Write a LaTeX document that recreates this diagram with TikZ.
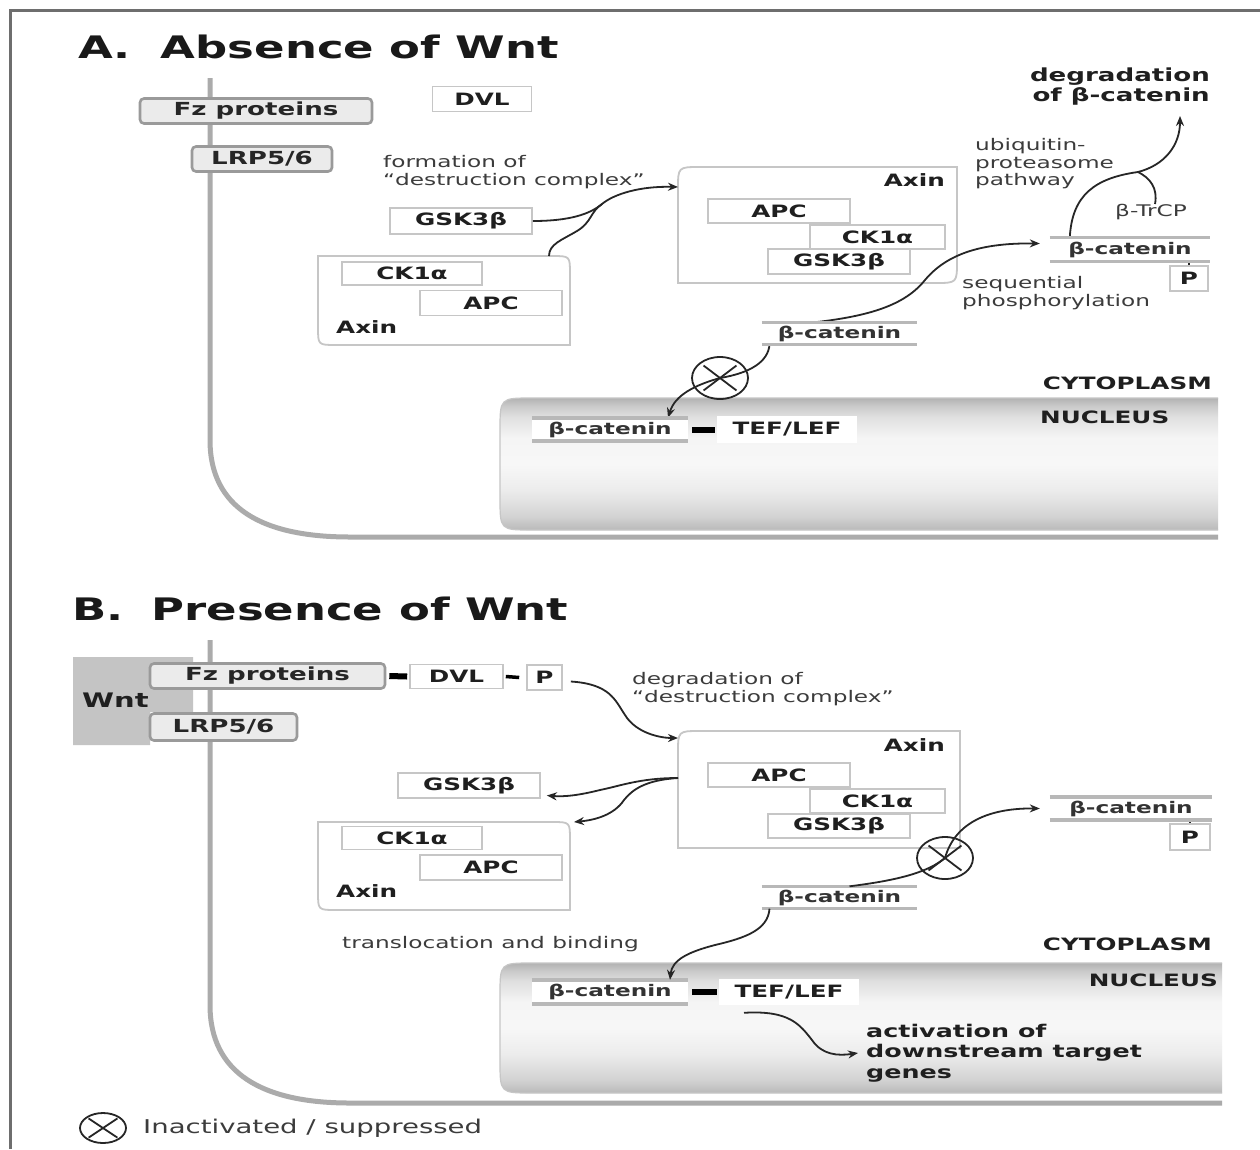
\documentclass[tikz,border=0pt]{standalone}
\usepackage{fontspec}
\setmainfont{DejaVu Sans}[FakeStretch=1.45]
\usetikzlibrary{shapes.geometric,arrows.meta}
\definecolor{membc}{HTML}{ABABAB}
\definecolor{boxln}{HTML}{C6C6C6}
\definecolor{txtg}{HTML}{3C3C3C}
\definecolor{frm}{HTML}{6E6E6E}
\definecolor{fzfill}{HTML}{EBEBEB}
\definecolor{fzline}{HTML}{9A9A9A}
\definecolor{wntc}{HTML}{C4C4C4}
\definecolor{barc}{HTML}{B8B8B8}
\pgfdeclareverticalshading{nucshade}{100bp}{color(0bp)=(gray!55); color(25bp)=(gray!55); color(30bp)=(gray!35); color(40bp)=(gray!15); color(50bp)=(gray!6); color(60bp)=(gray!8); color(68bp)=(gray!25); color(72bp)=(gray!42); color(75bp)=(gray!60); color(100bp)=(gray!60)}
\tikzset{
 box/.style={draw=boxln, line width=1.6pt, fill=white, inner sep=0pt, font=\fontsize{17}{20}\selectfont\bfseries, text=black!88},
 mbox/.style={draw=fzline, line width=2.6pt, fill=fzfill, rounded corners=4pt, inner sep=0pt, font=\fontsize{18}{20}\selectfont\bfseries, text=black!85},
 bcat/.style={inner sep=0pt, fill=white, font=\fontsize{16}{19}\selectfont\bfseries, text=black!80},
 barline/.style={line width=3.5pt, draw=barc},
 note/.style={font=\fontsize{16}{17.5}\selectfont, text=txtg, align=left, inner sep=0pt, anchor=west},
 big/.style={font=\fontsize{17}{20}\selectfont\bfseries, text=black!88, inner sep=0pt},
 head/.style={font=\fontsize{31}{34}\selectfont\bfseries, text=black!90, inner sep=0pt, anchor=west},
 conn/.style={line width=1.8pt, draw=black!85, -{Stealth[length=10pt,width=8pt]}},
 connn/.style={line width=1.8pt, draw=black!85},
 memb/.style={line width=5pt, draw=membc},
 cplx/.style={draw=boxln, line width=1.8pt},
 inhib/.style={ellipse, draw=black!85, line width=1.8pt, minimum width=56pt, minimum height=42pt, inner sep=0pt},
 xline/.style={line width=1.8pt, draw=black!85, shorten >=5pt, shorten <=5pt},
 bond/.style={line width=6pt, draw=black},
 pdot/.style={line width=2.5pt, draw=black!85},
}
\begin{document}
\begin{tikzpicture}[x=1pt,y=-1pt]
\useasboundingbox (0,0) rectangle (1260,1149);
\fill[white] (0,0) rectangle (1260,1149);
\draw[line width=3pt, frm] (10,1149) -- (10,10) -- (1260,10);

% ================= Panel A =================
\node[head] (aTitle) at (78,47) {A.\hspace{30pt}Absence of Wnt};
\draw[memb] (210,78) -- (210,440) .. controls (210,508) and (262,537) .. (350,537) -- (1218,537);
\node[mbox, minimum width=232pt, minimum height=25pt] (aFz) at (256,111) {Fz proteins};
\node[box, minimum width=99pt, minimum height=25pt] (aDVL) at (482,99) {DVL};
\node[mbox, minimum width=140pt, minimum height=25pt] (aLRP) at (262,159) {LRP5/6};
\node[note] (aForm) at (383,172) {formation of\\“destruction complex”};
\node[box, minimum width=142pt, minimum height=26pt] (aG) at (461,221) {GSK3β};

% left complex
\draw[cplx, fill=white] (318,256) -- (552,256) .. controls (570,256) .. (570,274) -- (570,345) -- (336,345) .. controls (318,345) .. (318,327) -- cycle;
\node[box, minimum width=140pt, minimum height=23pt] (aCK) at (412,273.5) {CK1α};
\node[box, minimum width=142pt, minimum height=25pt] (aAPC) at (491,303) {APC};
\node[big, anchor=west] (aAx) at (336,327) {Axin};
\coordinate (aLCt) at (549,256);

% right complex
\draw[cplx, fill=white] (678,283) -- (678,189) .. controls (678,167) .. (700,167) -- (957,167) -- (957,261) .. controls (957,283) .. (935,283) -- cycle;
\coordinate (aRCw) at (678,187);
\node[big, anchor=east] (aAx2) at (945,180) {Axin};
\node[box, minimum width=142pt, minimum height=24pt] (aAPC2) at (779,211) {APC};
\node[box, minimum width=135pt, minimum height=24pt] (aCK2) at (877.5,237) {CK1α};
\node[box, minimum width=142pt, minimum height=25pt] (aG2) at (839,261.5) {GSK3β};

% beta-catenins
\node[bcat, minimum width=155pt, minimum height=22pt] (aB1) at (839.5,333.5) {β-catenin};
\node[bcat, minimum width=160pt, minimum height=24pt] (aB2) at (1130,249.5) {β-catenin};
\node[box, minimum width=38pt, minimum height=25pt] (aP) at (1189,278.5) {P};
\draw[pdot] (aB2.south -| aP.north) -- (aP.north);

\node[big, align=right, anchor=east, font=\fontsize{18}{20}\selectfont\bfseries] (aDeg) at (1210,87) {degradation\\of β-catenin};
\node[note] (aUbq) at (975,164) {ubiquitin-\\proteasome\\pathway};
\node[note] (aTr) at (1115,212) {β-TrCP};
\node[note] (aSeq) at (962,293) {sequential\\phosphorylation};
\coordinate (aDegIn) at (1180,116);
\coordinate (aJ2) at (1138,172);
\coordinate (aJ) at (602,204);

% nucleus A
\shade[shading=nucshade] (1218,398) -- (532,398) .. controls (500,398) .. (500,430) -- (500,498) .. controls (500,530) .. (532,530) -- (1218,530) -- cycle;
\draw[gray!45, line width=1.2pt] (1218,398) -- (532,398) .. controls (500,398) .. (500,430) -- (500,498) .. controls (500,530) .. (532,530) -- (1218,530);
\node[big, anchor=east] (aCyt) at (1212,383) {CYTOPLASM};
\node[big, anchor=west] (aNuc) at (1040,417) {NUCLEUS};
\node[bcat, minimum width=156pt, minimum height=23pt] (aN1) at (610,429.5) {β-catenin};
\node[box, draw=white, minimum width=138pt, minimum height=25pt] (aTL) at (787,429.5) {TEF/LEF};
\draw[bond] ([xshift=4pt]aN1.east) -- ([xshift=-2pt]aTL.west);

\node[inhib] (aX) at (720,378) {};
\draw[xline] (aX.north west) -- (aX.south east);
\draw[xline] (aX.north east) -- (aX.south west);

% connectors A
\draw[conn] (aG.east) .. controls (570,221) and (590,214) .. (aJ) .. controls (614,194) and (640,186) .. (aRCw);
\draw[connn] (aLCt) .. controls (549,244) and (562,240) .. (577,231) .. controls (592,222) and (590,212) .. (aJ);
\draw[conn] ([xshift=-25pt]aB1.north) .. controls (870,316) and (905,305) .. (925,280) .. controls (950,250) and (990,243) .. ([shift={(-10,-6)}]aB2.west);
\draw[conn] ([xshift=20pt]aB2.north west) .. controls (1072,195) and (1095,178) .. (aJ2) .. controls (1165,165) and (1180,145) .. (aDegIn);
\draw[connn] ([xshift=40pt]aTr.north west) .. controls (1158,188) and (1150,178) .. (aJ2);
\draw[conn] ([xshift=-70pt]aB1.south) .. controls (768,362) and (750,373) .. (aX.center) .. controls (695,385) and (675,395) .. ([xshift=58pt]aN1.north);

% ================= Panel B =================
\node[head] (bTitle) at (72,609) {B.\hspace{28pt}Presence of Wnt};
\fill[wntc] (73,657) -- (193,657) -- (193,712) -- (150,712) -- (150,745) -- (73,745) -- cycle;
\node[big, anchor=west, font=\fontsize{20}{22}\selectfont\bfseries] (bWnt) at (82,700) {Wnt};
\draw[memb] (210,640) -- (210,1005) .. controls (210,1073) and (262,1103) .. (350,1103) -- (1222,1103);
\node[mbox, minimum width=235pt, minimum height=25pt] (bFz) at (267.5,676) {Fz proteins};
\node[mbox, minimum width=147pt, minimum height=27pt] (bLRP) at (223.5,727) {LRP5/6};
\node[box, minimum width=93pt, minimum height=24pt] (bDVL) at (456.5,676.5) {DVL};
\node[box, minimum width=35pt, minimum height=25pt] (bP) at (544.5,677.5) {P};
\draw[bond] ([xshift=3pt]bFz.east) -- ([xshift=-2pt]bDVL.west);
\draw[bond, line width=3.5pt] ([xshift=2pt]bDVL.east) -- ([xshift=-7pt]bP.west);
\node[note] (bDegC) at (632,689) {degradation of\\“destruction complex”};

% right complex B
\draw[cplx, fill=white] (678,848) -- (678,753) .. controls (678,731) .. (700,731) -- (960,731) -- (960,848) -- cycle;
\coordinate (bRCw) at (678,738);
\coordinate (bRCl) at (678,778);
\node[big, anchor=east] (bAx2) at (945,745) {Axin};
\node[box, minimum width=142pt, minimum height=24pt] (bAPC2) at (779,775) {APC};
\node[box, minimum width=135pt, minimum height=24pt] (bCK2) at (877.5,801) {CK1α};
\node[box, minimum width=142pt, minimum height=24pt] (bG2) at (839,826) {GSK3β};

\node[box, minimum width=142pt, minimum height=25pt] (bG) at (469,785.5) {GSK3β};
% left complex B
\draw[cplx, fill=white] (318,822) -- (552,822) .. controls (570,822) .. (570,840) -- (570,910) -- (336,910) .. controls (318,910) .. (318,892) -- cycle;
\coordinate (bLCt) at (574,822);
\node[box, minimum width=140pt, minimum height=23pt] (bCK) at (412,838) {CK1α};
\node[box, minimum width=142pt, minimum height=25pt] (bAPC) at (491,867.5) {APC};
\node[big, anchor=west] (bAx) at (336,891) {Axin};

\node[bcat, minimum width=155pt, minimum height=22pt] (bB1) at (839.5,897.5) {β-catenin};
\node[bcat, minimum width=162pt, minimum height=23pt] (bB2) at (1131,808.5) {β-catenin};
\node[box, minimum width=40pt, minimum height=26pt] (bPP) at (1190,837) {P};
\draw[pdot] (bB2.south -| bPP.north) -- (bPP.north);

\node[note] (bTrans) at (342,944) {translocation and binding};
\node[big, anchor=east] (bCyt) at (1212,944) {CYTOPLASM};

% nucleus B
\shade[shading=nucshade] (1222,963) -- (532,963) .. controls (500,963) .. (500,995) -- (500,1061) .. controls (500,1093) .. (532,1093) -- (1222,1093) -- cycle;
\draw[gray!45, line width=1.2pt] (1222,963) -- (532,963) .. controls (500,963) .. (500,995) -- (500,1061) .. controls (500,1093) .. (532,1093) -- (1222,1093);
\node[big, anchor=east] (bNuc) at (1218,980) {NUCLEUS};
\node[bcat, minimum width=156pt, minimum height=24pt] (bN1) at (610,992) {β-catenin};
\node[box, draw=white, minimum width=138pt, minimum height=24pt] (bTL) at (789,992) {TEF/LEF};
\draw[bond] ([xshift=4pt]bN1.east) -- ([xshift=-2pt]bTL.west);
\node[big, anchor=west, align=left, font=\fontsize{17.5}{20.5}\selectfont\bfseries] (bAct) at (866,1053) {activation of\\downstream target\\genes};

\node[inhib] (bX) at (945,858) {};
\draw[xline] (bX.north west) -- (bX.south east);
\draw[xline] (bX.north east) -- (bX.south west);

% bars on beta-catenin nodes
\foreach \n in {aB1,aB2,aN1,bB1,bB2,bN1} {
  \draw[barline] (\n.north west) -- (\n.north east);
  \draw[barline] (\n.south west) -- (\n.south east);
}

% connectors B
\draw[conn] ([shift={(8,4)}]bP.east) .. controls (610,684) and (615,700) .. (625,715) .. controls (636,733) and (660,738) .. (bRCw);
\draw[conn] (bRCl) .. controls (640,778) and (620,786) .. (600,790) .. controls (580,795) and (565,797) .. ([shift={(6,10)}]bG.east);
\draw[conn] (bRCl) .. controls (645,780) and (632,790) .. (624,800) .. controls (614,815) and (595,820) .. (bLCt);
\draw[conn] ([xshift=10pt]bB1.north) .. controls (900,880) and (928,872) .. (bX.center) .. controls (955,822) and (990,808) .. ([xshift=-10pt]bB2.west);
\draw[conn] ([xshift=-70pt]bB1.south) .. controls (768,930) and (745,938) .. (715,945) .. controls (688,952) and (672,960) .. ([xshift=60pt]bN1.north);
\draw[conn] ([shift={(-45,8)}]bTL.south) .. controls (790,1010) and (800,1025) .. (812,1040) .. controls (822,1055) and (838,1056) .. ([xshift=-8pt]bAct.west);

% legend
\node[inhib, minimum width=46pt, minimum height=30pt] (lX) at (103,1128) {};
\draw[xline, shorten >=3pt, shorten <=3pt] (lX.north west) -- (lX.south east);
\draw[xline, shorten >=3pt, shorten <=3pt] (lX.north east) -- (lX.south west);
\node[note, font=\fontsize{19}{22}\selectfont] (lT) at (143,1128) {Inactivated / suppressed};
\end{tikzpicture}
\end{document}
